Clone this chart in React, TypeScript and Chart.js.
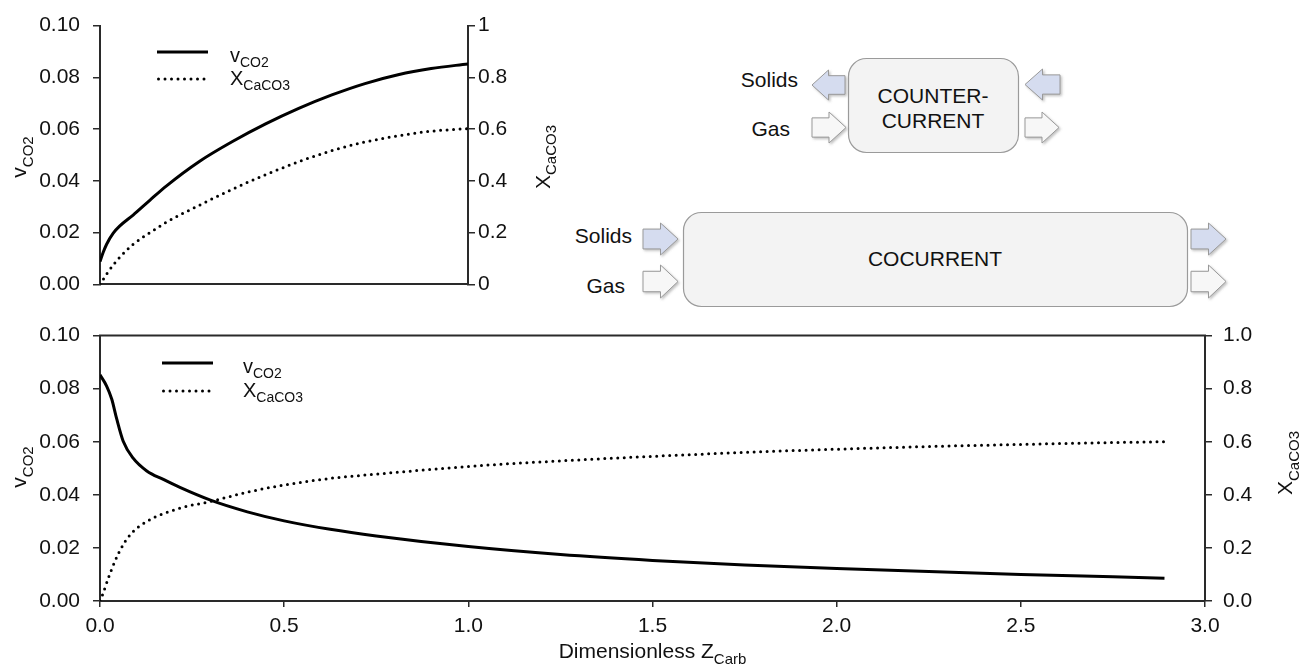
import React, { useEffect, useRef } from 'react';
import { Chart, registerables } from 'chart.js';

Chart.register(...registerables);

const FONT = 'Arial, "Liberation Sans", sans-serif';
const AXIS = '#2a2a2a';
const TICK_FONT = { family: FONT, size: 21 };

// ---- Counter-current (top) chart data ----
const topZv = [0, 0.009, 0.018, 0.036, 0.054, 0.09, 0.136, 0.18, 0.27, 0.36, 0.45, 0.54, 0.63, 0.72, 0.81, 0.9, 1.0];
const topVco2 = [0.0088, 0.0125, 0.0155, 0.0198, 0.0226, 0.0268, 0.0326, 0.038, 0.0475, 0.0552, 0.062, 0.068, 0.0732, 0.0776, 0.081, 0.0834, 0.0852];
const topZx = [0, 0.009, 0.018, 0.036, 0.054, 0.09, 0.136, 0.18, 0.27, 0.36, 0.45, 0.54, 0.63, 0.72, 0.81, 0.9, 1.0];
const topXcaco3 = [0, 0.02, 0.04, 0.075, 0.105, 0.155, 0.2, 0.24, 0.306, 0.368, 0.424, 0.474, 0.517, 0.55, 0.574, 0.592, 0.602];

// ---- Cocurrent (bottom) chart data ----
const botZv = [0, 0.018, 0.032, 0.045, 0.063, 0.09, 0.127, 0.172, 0.217, 0.3, 0.4, 0.5, 0.625, 0.75, 1.0, 1.25, 1.5, 1.75, 2.0, 2.25, 2.5, 2.75, 2.89];
const botVco2 = [0.0852, 0.081, 0.076, 0.0688, 0.0602, 0.0538, 0.049, 0.0458, 0.0428, 0.038, 0.0336, 0.0302, 0.027, 0.0245, 0.0205, 0.0175, 0.0153, 0.0136, 0.0122, 0.0111, 0.01, 0.0091, 0.0086];
const botZx = [0, 0.005, 0.027, 0.054, 0.082, 0.127, 0.217, 0.3, 0.4, 0.5, 0.625, 0.75, 1.0, 1.25, 1.5, 1.75, 2.0, 2.25, 2.5, 2.75, 2.89];
const botXcaco3 = [0, 0.016, 0.103, 0.19, 0.25, 0.3, 0.35, 0.375, 0.41, 0.437, 0.462, 0.478, 0.507, 0.528, 0.545, 0.56, 0.572, 0.582, 0.59, 0.597, 0.6];

const seriesNames = { v: ['v', 'CO2'], x: ['X', 'CaCO3'] };

function pts(xs: number[], ys: number[]) {
  return xs.map((x, i) => ({ x, y: ys[i] }));
}

function drawSub(ctx: CanvasRenderingContext2D, x: number, y: number, main: string, sub: string, size: number, subSize: number, drop: number, align: 'left' | 'center') {
  ctx.font = `${size}px ${FONT}`;
  const w1 = ctx.measureText(main).width;
  ctx.font = `${subSize}px ${FONT}`;
  const w2 = ctx.measureText(sub).width;
  const sx = align === 'center' ? x - (w1 + w2) / 2 : x;
  ctx.textAlign = 'left';
  ctx.textBaseline = 'alphabetic';
  ctx.fillStyle = '#111';
  ctx.font = `${size}px ${FONT}`;
  ctx.fillText(main, sx, y);
  ctx.font = `${subSize}px ${FONT}`;
  ctx.fillText(sub, sx + w1, y + drop);
}

function drawRotSub(ctx: CanvasRenderingContext2D, x: number, y: number, main: string, sub: string, size: number, subSize: number, drop: number) {
  ctx.save();
  ctx.translate(x, y);
  ctx.rotate(-Math.PI / 2);
  drawSub(ctx, 0, 0, main, sub, size, subSize, drop, 'center');
  ctx.restore();
}

function drawLegend(ctx: CanvasRenderingContext2D, x0: number, x1: number, y1: number, y2: number, tx: number) {
  ctx.save();
  ctx.strokeStyle = '#000';
  ctx.lineWidth = 3;
  ctx.beginPath();
  ctx.moveTo(x0, y1);
  ctx.lineTo(x1, y1);
  ctx.stroke();
  ctx.setLineDash([0, 6.5]);
  ctx.lineCap = 'round';
  ctx.beginPath();
  ctx.moveTo(x0 + 1.5, y2);
  ctx.lineTo(x1, y2);
  ctx.stroke();
  ctx.restore();
  drawSub(ctx, tx, y1 + 10, seriesNames.v[0], seriesNames.v[1], 20, 14, 5, 'left');
  drawSub(ctx, tx, y2 + 6, seriesNames.x[0], seriesNames.x[1], 20, 14, 5, 'left');
}

const solidDs = (data: any[], axis: string) => ({
  data,
  yAxisID: axis,
  borderColor: '#000',
  borderWidth: 3,
  pointRadius: 0,
  fill: false,
  cubicInterpolationMode: 'monotone' as const,
});
const dotDs = (data: any[], axis: string) => ({
  data,
  yAxisID: axis,
  borderColor: '#000',
  borderWidth: 3,
  borderDash: [0, 6.5],
  borderCapStyle: 'round' as const,
  pointRadius: 0,
  fill: false,
  cubicInterpolationMode: 'monotone' as const,
});

function TopChart() {
  const ref = useRef<HTMLCanvasElement>(null);
  useEffect(() => {
    const W = 570, H = 310;
    const chart = new Chart(ref.current!, {
      type: 'line',
      data: {
        datasets: [
          solidDs(pts(topZv, topVco2), 'y') as any,
          dotDs(pts(topZx, topXcaco3), 'y1') as any,
        ],
      },
      options: {
        responsive: false,
        animation: false,
        layout: { padding: { top: 23, left: 0, right: 0, bottom: 0 } },
        plugins: { legend: { display: false }, tooltip: { enabled: false } },
        scales: {
          x: {
            type: 'linear', min: 0, max: 1,
            ticks: { display: false },
            grid: { drawOnChartArea: false, drawTicks: false },
            border: { display: true, color: AXIS, width: 2 },
            afterFit: (s: any) => { s.height = H - 289.5; },
          },
          y: {
            type: 'linear', position: 'left', min: 0, max: 0.1,
            ticks: { stepSize: 0.02, font: TICK_FONT, color: '#111', padding: 13, callback: (v: any) => Number(v).toFixed(2) },
            grid: { drawOnChartArea: false, drawTicks: true, tickLength: 7, color: AXIS, lineWidth: 1.5 },
            border: { display: true, color: AXIS, width: 2 },
            afterFit: (s: any) => { s.width = 100; },
          },
          y1: {
            type: 'linear', position: 'right', min: 0, max: 1,
            ticks: { stepSize: 0.2, font: TICK_FONT, color: '#111', padding: 3, callback: (v: any) => (v === 0 ? '0' : Math.abs(v - 1) < 1e-9 ? '1' : Number(v).toFixed(1)) },
            grid: { drawOnChartArea: false, drawTicks: true, tickLength: 7, color: AXIS, lineWidth: 1.5 },
            border: { display: true, color: AXIS, width: 2 },
            afterFit: (s: any) => { s.width = W - 468; },
          },
        },
      },
      plugins: [
        {
          id: 'topDeco',
          afterDraw(c: any) {
            const ctx = c.ctx as CanvasRenderingContext2D;
            drawLegend(ctx, 157, 208, 52, 79, 230);
            drawRotSub(ctx, 26, 157, seriesNames.v[0], seriesNames.v[1], 21, 15, 7);
            drawRotSub(ctx, 550, 157, seriesNames.x[0], seriesNames.x[1], 21, 15, 6);
          },
        },
      ],
    } as any);
    return () => chart.destroy();
  }, []);
  return <canvas ref={ref} width={570} height={310} style={{ position: 'absolute', left: 0, top: 0 }} />;
}

function BottomChart() {
  const ref = useRef<HTMLCanvasElement>(null);
  useEffect(() => {
    const W = 1301, H = 361;
    const chart = new Chart(ref.current!, {
      type: 'line',
      data: {
        datasets: [
          solidDs(pts(botZv, botVco2), 'y') as any,
          dotDs(pts(botZx, botXcaco3), 'y1') as any,
        ],
      },
      options: {
        responsive: false,
        animation: false,
        layout: { padding: { top: 22, left: 0, right: 0, bottom: 0 } },
        plugins: { legend: { display: false }, tooltip: { enabled: false } },
        scales: {
          x: {
            type: 'linear', min: 0, max: 3,
            ticks: { stepSize: 0.5, font: TICK_FONT, color: '#111', padding: 7, maxRotation: 0, callback: (v: any) => Number(v).toFixed(1) },
            grid: { drawOnChartArea: false, drawTicks: true, tickLength: 6, color: AXIS, lineWidth: 1.5 },
            border: { display: true, color: AXIS, width: 2 },
            afterFit: (s: any) => { s.height = H - 291; },
          },
          y: {
            type: 'linear', position: 'left', min: 0, max: 0.1,
            ticks: { stepSize: 0.02, font: TICK_FONT, color: '#111', padding: 13, callback: (v: any) => Number(v).toFixed(2) },
            grid: { drawOnChartArea: false, drawTicks: true, tickLength: 7, color: AXIS, lineWidth: 1.5 },
            border: { display: true, color: AXIS, width: 2 },
            afterFit: (s: any) => { s.width = 100; },
          },
          y1: {
            type: 'linear', position: 'right', min: 0, max: 1,
            ticks: { stepSize: 0.2, font: TICK_FONT, color: '#111', padding: 11, callback: (v: any) => Number(v).toFixed(1) },
            grid: { drawOnChartArea: false, drawTicks: true, tickLength: 7, color: AXIS, lineWidth: 1.5 },
            border: { display: true, color: AXIS, width: 2 },
            afterFit: (s: any) => { s.width = W - 1205; },
          },
        },
      },
      plugins: [
        {
          id: 'botDeco',
          afterDraw(c: any) {
            const ctx = c.ctx as CanvasRenderingContext2D;
            const a = c.chartArea;
            ctx.save();
            ctx.strokeStyle = AXIS;
            ctx.lineWidth = 2;
            ctx.beginPath();
            ctx.moveTo(a.left - 1, a.top);
            ctx.lineTo(a.right + 1, a.top);
            ctx.stroke();
            ctx.restore();
            drawLegend(ctx, 162, 213, 53, 81, 243);
            drawRotSub(ctx, 26, 157, seriesNames.v[0], seriesNames.v[1], 21, 15, 7);
            drawRotSub(ctx, 1292, 153, seriesNames.x[0], seriesNames.x[1], 21, 15, 7);
            drawSub(ctx, (a.left + a.right) / 2, 348, 'Dimensionless Z', 'Carb', 21, 15, 6, 'center');
          },
        },
      ],
    } as any);
    return () => chart.destroy();
  }, []);
  return <canvas ref={ref} width={1301} height={361} style={{ position: 'absolute', left: 0, top: 310 }} />;
}

function arrow(x0: number, y0: number, x1: number, y1: number, dir: 'left' | 'right') {
  const h = y1 - y0;
  const inset = h * 0.19;
  const mid = (y0 + y1) / 2;
  const head = (x1 - x0) * 0.5;
  if (dir === 'right') {
    const xh = x1 - head;
    return [[x0, y0 + inset], [xh, y0 + inset], [xh, y0], [x1, mid], [xh, y1], [xh, y1 - inset], [x0, y1 - inset]]
      .map((p) => p.join(',')).join(' ');
  }
  const xh = x0 + head;
  return [[x1, y0 + inset], [xh, y0 + inset], [xh, y0], [x0, mid], [xh, y1], [xh, y1 - inset], [x1, y1 - inset]]
    .map((p) => p.join(',')).join(' ');
}

const SOLID_FILL = '#d5dcef';
const GAS_FILL = '#f7f7f7';

function Diagram() {
  const txt = { fontFamily: FONT, fontSize: 21, fill: '#111' } as any;
  const arrows: [number, number, number, number, 'left' | 'right', string][] = [
    [812, 70, 845, 100, 'left', SOLID_FILL],
    [812, 112, 846, 143, 'right', GAS_FILL],
    [1025, 69, 1060, 100, 'left', SOLID_FILL],
    [1025, 112, 1059, 143, 'right', GAS_FILL],
    [643, 223, 678, 255, 'right', SOLID_FILL],
    [643, 265, 678, 298, 'right', GAS_FILL],
    [1191, 223, 1226, 255, 'right', SOLID_FILL],
    [1191, 265, 1226, 298, 'right', GAS_FILL],
  ];
  return (
    <svg width={1301} height={310} style={{ position: 'absolute', left: 0, top: 0 }}>
      <defs>
        <filter id="sh" x="-20%" y="-20%" width="150%" height="150%">
          <feDropShadow dx="1.5" dy="1.5" stdDeviation="1" floodColor="#777" floodOpacity="0.45" />
        </filter>
      </defs>
      <rect x={848.5} y={58.5} width={170} height={94} rx={18} fill="#f3f3f3" stroke="#9a9a9a" strokeWidth={1.2} />
      <rect x={683.5} y={212.5} width={504} height={94} rx={18} fill="#f3f3f3" stroke="#9a9a9a" strokeWidth={1.2} />
      {arrows.map((a, i) => (
        <polygon key={i} points={arrow(a[0], a[1], a[2], a[3], a[4])} fill={a[5]} stroke="#999" strokeWidth={1} filter="url(#sh)" />
      ))}
      <text x={798} y={87} textAnchor="end" style={txt}>Solids</text>
      <text x={790} y={136} textAnchor="end" style={txt}>Gas</text>
      <text x={933} y={103} textAnchor="middle" style={txt}>COUNTER-</text>
      <text x={933} y={128} textAnchor="middle" style={txt}>CURRENT</text>
      <text x={632} y={243} textAnchor="end" style={txt}>Solids</text>
      <text x={625} y={293} textAnchor="end" style={txt}>Gas</text>
      <text x={935} y={266} textAnchor="middle" style={txt}>COCURRENT</text>
    </svg>
  );
}

export default function App() {
  return (
    <div style={{ position: 'absolute', left: 0, top: 0, width: 1301, height: 671, background: '#fff', overflow: 'hidden' }}>
      <Diagram />
      <TopChart />
      <BottomChart />
    </div>
  );
}
